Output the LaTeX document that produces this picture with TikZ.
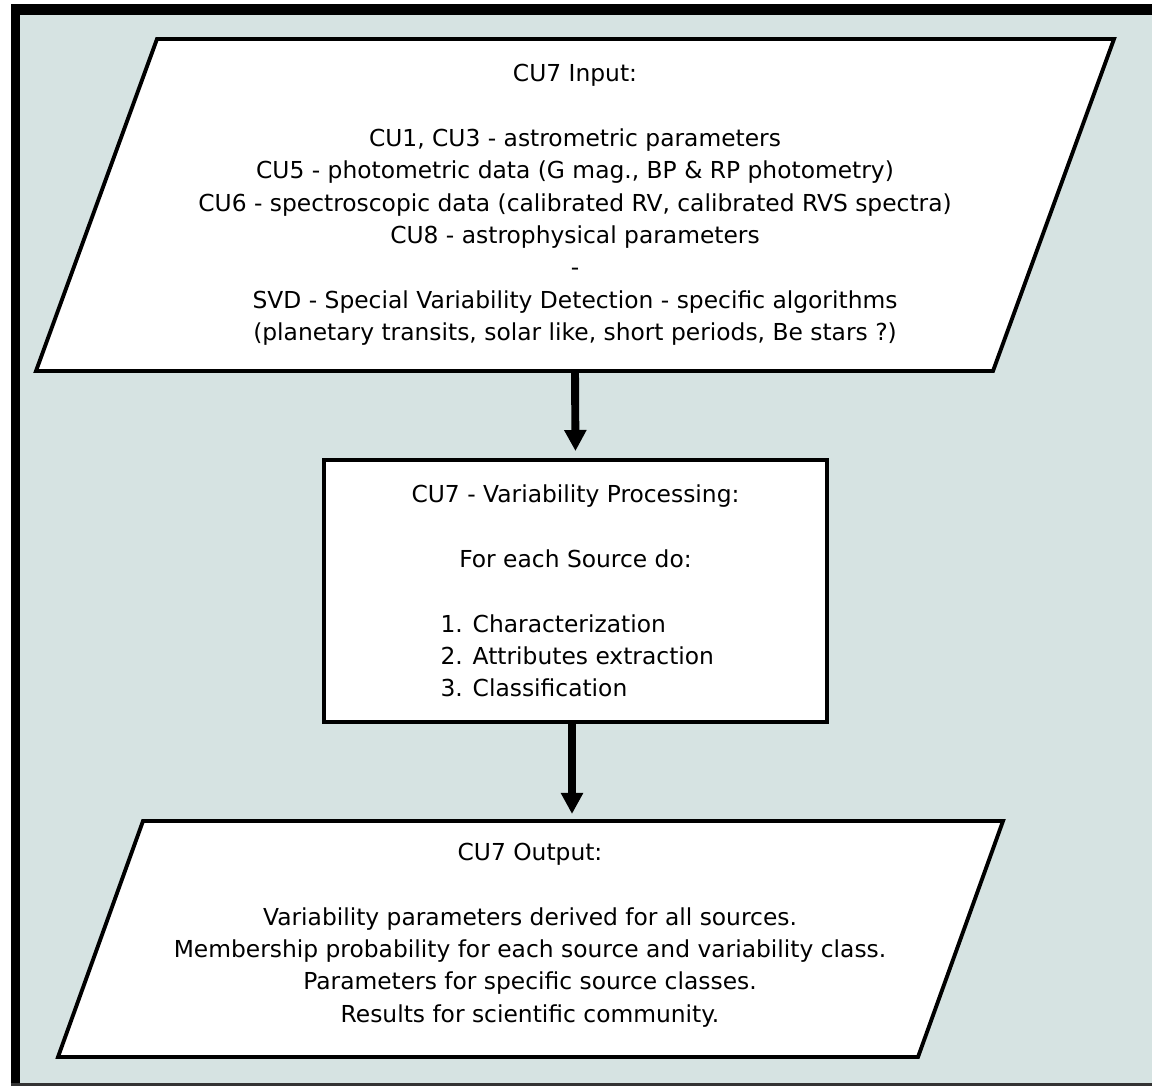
\documentclass[tikz,border=0pt]{standalone}
\usepackage{fontspec}
\setmainfont{DejaVu Sans}
\usetikzlibrary{arrows.meta}
\definecolor{panelbg}{RGB}{214,227,226}
\tikzset{
  flowbox/.style={draw, line width=2.2pt, fill=white},
  flowtext/.style={align=center, font=\fontsize{13.3pt}{18.4pt}\selectfont},
  bigarrow/.style={line width=4.5pt, -{Triangle[width=12pt,length=12pt]}, shorten >=4pt}
}
\begin{document}
\begin{tikzpicture}[x=0.02cm,y=-0.02cm]
    \useasboundingbox (0,0) rectangle (1152,1086);
    % frame
    \fill[panelbg] (11,4) rectangle (1152,1086);
    \fill[black] (11,4) rectangle (1152,15);
    \fill[black] (11,4) rectangle (20,1086);
    \fill[black!80] (11,1083) rectangle (1152,1086);

    % input
    \draw[flowbox] (157,39) -- (1114,39) -- (993,371) -- (36,371) -- cycle;
    \draw (575,205) node[flowtext] (input) {CU7 Input:\\ \mbox{}\\
        CU1, CU3 - astrometric parameters\\
        CU5 - photometric data (G mag., BP \& RP photometry)\\
        CU6 - spectroscopic data (calibrated RV, calibrated RVS spectra)\\
        CU8 - astrophysical parameters\\
        -\\
        SVD - Special Variability Detection - specific algorithms\\
        (planetary transits, solar like, short periods, Be stars ?)};
    \coordinate (input-s) at (575,371);

    % processing
    \draw (575.5,591) node[flowbox, flowtext, minimum width=10.06cm, minimum height=5.24cm] (proc) {CU7 - Variability Processing:\\ \mbox{}\\
        For each Source do:\\ \mbox{}\\
        \makebox[5.4cm][l]{1. Characterization}\\
        \makebox[5.4cm][l]{2. Attributes extraction}\\
        \makebox[5.4cm][l]{3. Classification}};

    % output
    \draw[flowbox] (143,821) -- (1003,821) -- (918,1057) -- (58,1057) -- cycle;
    \draw (530,935) node[flowtext] (output) {CU7 Output:\\ \mbox{}\\
        Variability parameters derived for all sources.\\
        Membership probability for each source and variability class.\\
        Parameters for specific source classes.\\
        Results for scientific community.};
    \coordinate (output-n) at (572,821);

    \draw[bigarrow] (input-s) -- (proc.north);
    \draw[bigarrow] (proc.south -| output-n) -- (output-n);
\end{tikzpicture}
\end{document}
